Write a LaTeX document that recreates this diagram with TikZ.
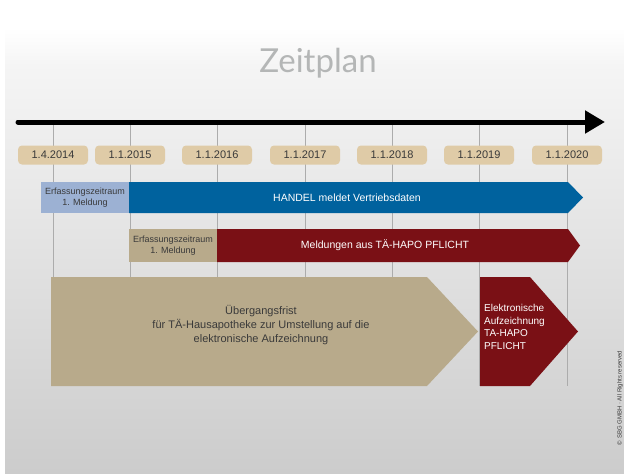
\documentclass[tikz,border=0pt]{standalone}
\usepackage{fontspec}
\setmainfont{Liberation Sans}
\newfontfamily\titlefont{Lato}
\usetikzlibrary{arrows.meta}
\definecolor{datetan}{HTML}{DFCBA7}
\definecolor{bandblue}{HTML}{00629E}
\definecolor{lightblue}{HTML}{9CB1D3}
\definecolor{darkred}{HTML}{7A1015}
\definecolor{khaki}{HTML}{B8AA8B}
\definecolor{txtgray}{HTML}{3A3A3A}
\definecolor{titlegray}{HTML}{B4B6B6}
\begin{document}
\begin{tikzpicture}[x=1pt, y=-1pt,
  datebox/.style = {rounded corners=4pt, fill=datetan, minimum width=70pt,
    minimum height=19pt, inner sep=0pt, text=txtgray,
    font=\fontsize{11}{13}\selectfont},
  smalltext/.style = {align=center, inner sep=0pt, text=txtgray,
    font=\fontsize{9}{11}\selectfont},
  bartext/.style = {inner sep=0pt, text=white,
    font=\fontsize{10.5}{12}\selectfont}]
  \useasboundingbox (0,0) rectangle (624,474);
  \shade[top color=white, bottom color=gray!8] (5,28) rectangle (624,66);
  \shade[top color=gray!8, bottom color=gray!40] (5,65.5) rectangle (624,474);
  \node[anchor=base, text=titlegray, font=\titlefont\fontsize{33}{33}\selectfont]
    (title) at (318,72) {Zeitplan};
  % Zeitachse
  \coordinate (axisstart) at (18,122);
  \coordinate (axisend) at (605,122);
  \draw[line width=5pt, line cap=round,
    -{Triangle[length=20pt, width=22pt]}] (axisstart) -- (axisend);
  \foreach \x/\d [count=\i] in {53/1.4.2014, 130/1.1.2015, 217/1.1.2016,
      305/1.1.2017, 392/1.1.2018, 479/1.1.2019, 567/1.1.2020} {
    \draw[gray!65, line width=0.8pt] (\x,125) -- (\x,386);
    \node[datebox] (d\i) at (\x,155) {\d};
  }
  % Handel
  \fill[lightblue] (41,182) rectangle (129,213);
  \node[smalltext] (erfa) at (85,197.5) {Erfassungszeitraum\\1. Meldung};
  \fill[bandblue] (129,182) -- (568,182) -- (583,197.5) -- (568,213)
    -- (129,213) -- cycle;
  \node[bartext] (handel) at (347,197.5) {HANDEL meldet Vertriebsdaten};
  % TA-HAPO
  \fill[khaki] (129,229) rectangle (217,262);
  \node[smalltext] (erfb) at (173,245.5) {Erfassungszeitraum\\1. Meldung};
  \fill[darkred] (217,229) -- (568,229) -- (580,245.5) -- (568,262)
    -- (217,262) -- cycle;
  \node[bartext] (meldung) at (385,245.5) {Meldungen aus TÄ-HAPO PFLICHT};
  % Uebergang
  \fill[khaki] (51,277) -- (427,277) -- (478,331.5) -- (427,386)
    -- (51,386) -- cycle;
  \node[smalltext, font=\fontsize{11}{14}\selectfont] (frist) at (261,325)
    {Übergangsfrist\\für TÄ-Hausapotheke zur Umstellung auf die\\elektronische Aufzeichnung};
  \fill[darkred] (480,277) -- (530,277) -- (578,331.5) -- (530,386)
    -- (480,386) -- cycle;
  \node[bartext, align=left, anchor=west, font=\fontsize{10}{12.4}\selectfont]
    (pflicht) at (484,327) {Elektronische\\Aufzeichnung\\TA-HAPO\\PFLICHT};
  \node[rotate=90, text=txtgray, font=\fontsize{6}{7}\selectfont]
    (copy) at (620,398) {\copyright\ SBG GMBH · All Rights reserved};
\end{tikzpicture}
\end{document}
